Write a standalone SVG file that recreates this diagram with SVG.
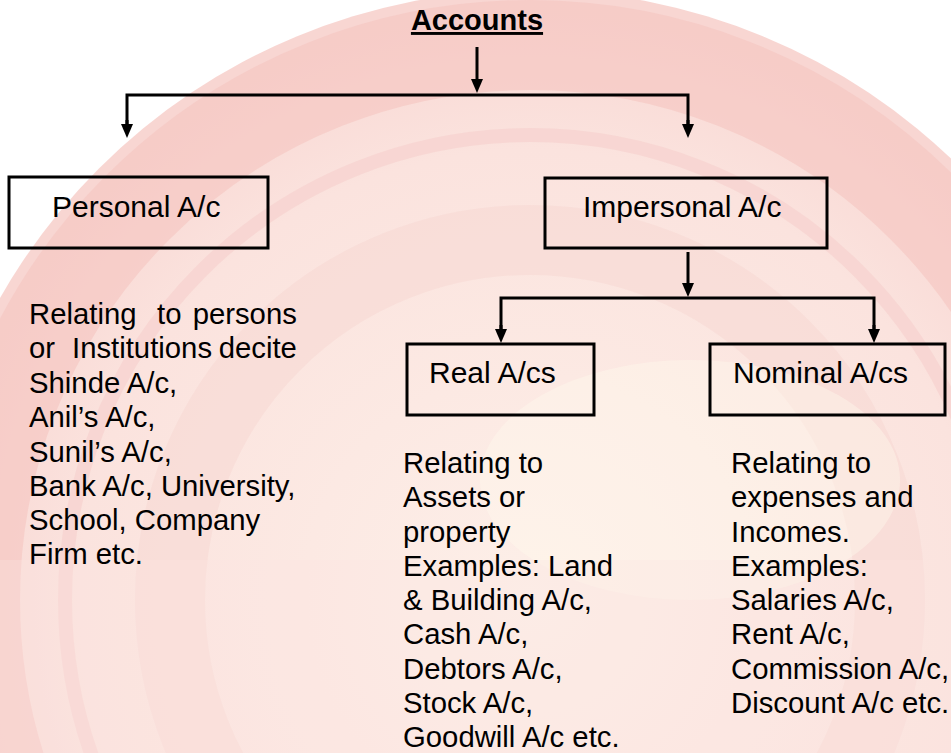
<svg xmlns="http://www.w3.org/2000/svg" width="951" height="753" viewBox="0 0 951 753">
  <defs>
    <marker id="ah" viewBox="0 0 14 12" refX="4" refY="6" markerWidth="14" markerHeight="12" markerUnits="userSpaceOnUse" orient="auto">
      <path d="M0,0 L14,6 L0,12 z" fill="#000"/>
    </marker>
    <radialGradient id="bgglow" cx="530" cy="600" r="600" gradientUnits="userSpaceOnUse">
      <stop offset="0" stop-color="#fdefe8"/>
      <stop offset="0.75" stop-color="#fbe3de"/>
      <stop offset="1" stop-color="#f8d6d2"/>
    </radialGradient>
  </defs>
  <style>
    .box { fill: none; stroke: #000; stroke-width: 3; }
    .conn { fill: none; stroke: #000; stroke-width: 3; }
    .lbl { font-family: "Liberation Sans", Arial, sans-serif; font-size: 30px; fill: #000; }
    .body { font-family: "Liberation Sans", Arial, sans-serif; font-size: 29.3px; fill: #000; }
    .title { font-family: "Liberation Sans", Arial, sans-serif; font-size: 29px; font-weight: bold; fill: #000; text-decoration: underline; }
  </style>

  <!-- faded watermark background -->
  <g id="watermark">
    <rect x="0" y="0" width="951" height="753" fill="#ffffff"/>
    <circle cx="530" cy="600" r="610" fill="url(#bgglow)"/>
    <circle cx="530" cy="600" r="555" fill="none" stroke="#f5c4c0" stroke-width="90" opacity="0.6"/>
    <circle cx="530" cy="600" r="465" fill="none" stroke="#f7d2ce" stroke-width="14" opacity="0.7"/>
    <circle cx="530" cy="600" r="360" fill="none" stroke="#f6d4d0" stroke-width="70" opacity="0.45"/>
    <ellipse cx="690" cy="480" rx="210" ry="120" fill="#fffaee" opacity="0.4"/>
    <rect x="0" y="560" width="951" height="193" fill="#fce6e0" opacity="0.3"/>
  </g>

  <g id="connectors">
    <line class="conn" x1="477" y1="47" x2="477" y2="83" marker-end="url(#ah)"/>
    <polyline class="conn" points="127,128 127,95 688,95 688,128" />
    <line class="conn" x1="127" y1="120" x2="127" y2="128" marker-end="url(#ah)"/>
    <line class="conn" x1="688" y1="120" x2="688" y2="128" marker-end="url(#ah)"/>
    <line class="conn" x1="688" y1="252" x2="688" y2="287" marker-end="url(#ah)"/>
    <polyline class="conn" points="501,333 501,298 874,298 874,333" />
    <line class="conn" x1="501" y1="325" x2="501" y2="333" marker-end="url(#ah)"/>
    <line class="conn" x1="874" y1="325" x2="874" y2="333" marker-end="url(#ah)"/>
  </g>

  <g id="accounts">
    <text class="title" x="477" y="30" text-anchor="middle">Accounts</text>
  </g>

  <g id="personal">
    <rect class="box" x="9" y="177" width="259" height="71"/>
    <text class="lbl" x="52" y="217">Personal A/c</text>
  </g>

  <g id="impersonal">
    <rect class="box" x="545" y="178" width="282" height="70"/>
    <text class="lbl" x="583" y="217">Impersonal A/c</text>
  </g>

  <g id="real">
    <rect class="box" x="407" y="344" width="187" height="71"/>
    <text class="lbl" x="429" y="383">Real A/cs</text>
  </g>

  <g id="nominal">
    <rect class="box" x="710" y="344" width="235" height="71"/>
    <text class="lbl" x="733" y="383">Nominal A/cs</text>
  </g>

  <g id="personal-desc">
    <text class="body">
      <tspan x="29" y="324">Relating</tspan><tspan x="157" y="324">to</tspan><tspan x="305" y="324" text-anchor="end">persons</tspan>
      <tspan x="29" y="358">or</tspan><tspan x="72" y="358">Institutions</tspan><tspan x="305" y="358" text-anchor="end">decite</tspan>
      <tspan x="29" y="393">Shinde A/c,</tspan>
      <tspan x="29" y="427">Anil’s A/c,</tspan>
      <tspan x="29" y="462">Sunil’s A/c,</tspan>
      <tspan x="29" y="496">Bank A/c, University,</tspan>
      <tspan x="29" y="530">School, Company</tspan>
      <tspan x="29" y="564">Firm etc.</tspan>
    </text>
  </g>

  <g id="real-desc">
    <text class="body">
      <tspan x="403" y="473">Relating to</tspan>
      <tspan x="403" y="507">Assets or</tspan>
      <tspan x="403" y="542">property</tspan>
      <tspan x="403" y="576">Examples: Land</tspan>
      <tspan x="403" y="610">&amp; Building A/c,</tspan>
      <tspan x="403" y="644">Cash A/c,</tspan>
      <tspan x="403" y="679">Debtors A/c,</tspan>
      <tspan x="403" y="713">Stock A/c,</tspan>
      <tspan x="403" y="747">Goodwill A/c etc.</tspan>
    </text>
  </g>

  <g id="nominal-desc">
    <text class="body">
      <tspan x="731" y="473">Relating to</tspan>
      <tspan x="731" y="507">expenses and</tspan>
      <tspan x="731" y="542">Incomes.</tspan>
      <tspan x="731" y="576">Examples:</tspan>
      <tspan x="731" y="610">Salaries A/c,</tspan>
      <tspan x="731" y="644">Rent A/c,</tspan>
      <tspan x="731" y="679">Commission A/c,</tspan>
      <tspan x="731" y="713">Discount A/c etc.</tspan>
    </text>
  </g>
</svg>
